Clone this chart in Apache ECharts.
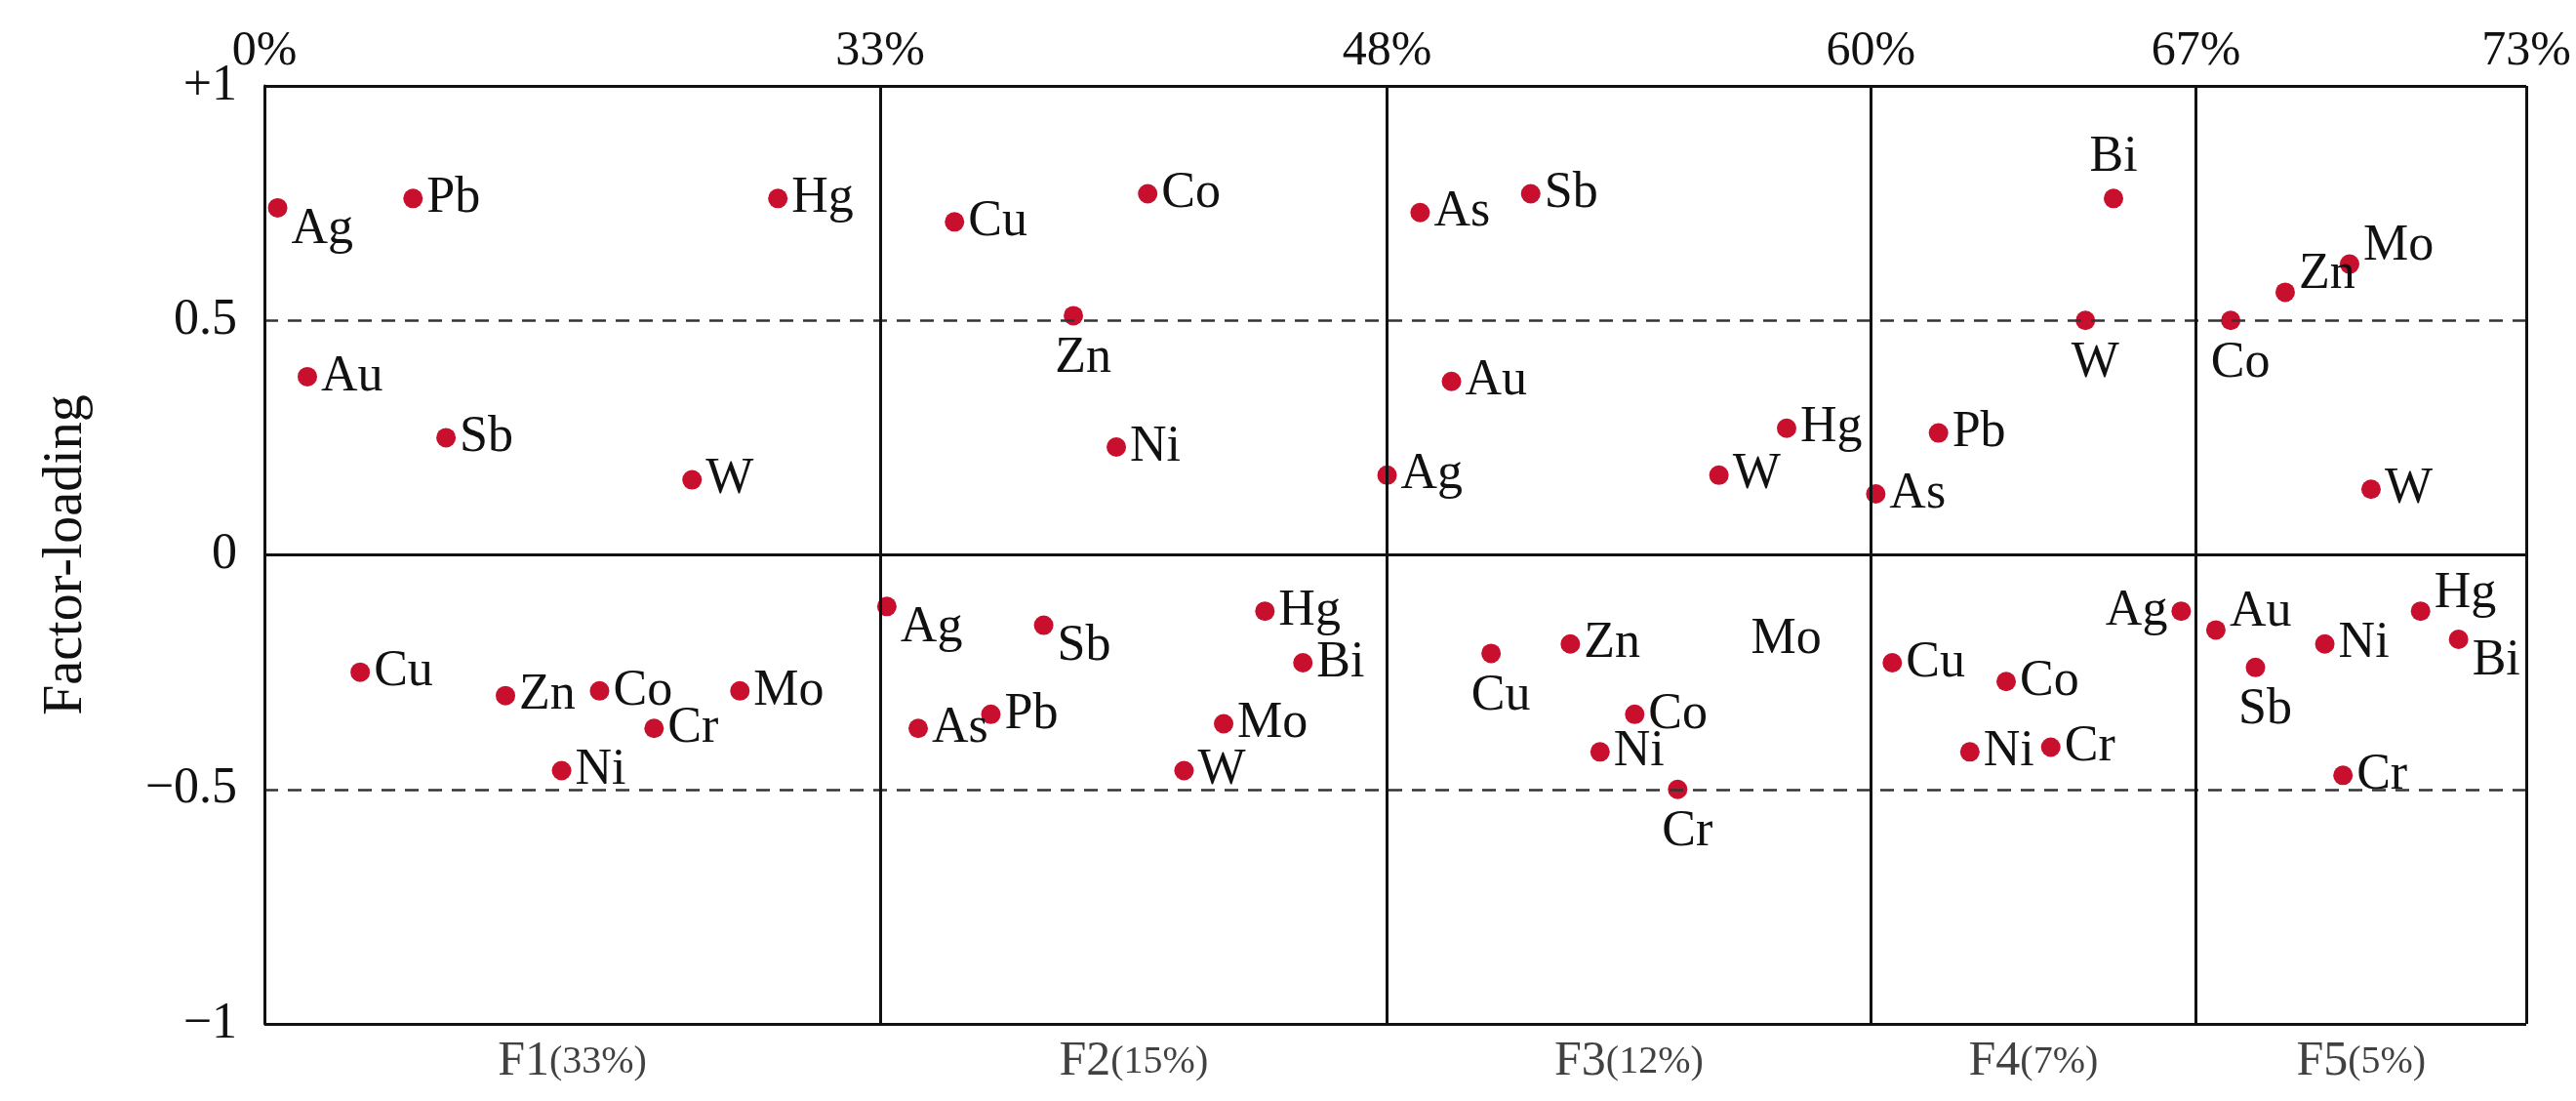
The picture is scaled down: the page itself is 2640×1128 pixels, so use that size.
<!DOCTYPE html>
<html>
<head>
<meta charset="utf-8">
<script src="https://cdn.jsdelivr.net/npm/echarts@6/dist/echarts.min.js"></script>
<style>html,body{margin:0;background:#fff}#c{width:2640px;height:1128px}</style>
</head>
<body>
<div id="c"></div>
<script>
// x positions are in panel units (each factor panel has its own width, as in the figure)
var dividers = [0, 373, 680, 973, 1170, 1370];
var dividerLabels = ['0%', '33%', '48%', '60%', '67%', '73%'];
var factorNames = ['F1', 'F2', 'F3', 'F4', 'F5'];
var factorShares = ['(33%)', '(15%)', '(12%)', '(7%)', '(5%)'];

var elements = ['Ag','Pb','Hg','Au','Sb','W','Cu','Zn','Co','Mo','Cr','Ni',
  'Cu','Co','Zn','Ni','Ag','Sb','Hg','Bi','Mo','As','Pb','W',
  'As','Sb','Au','Ag','W','Hg','Cu','Zn','Co','Ni','Cr','Mo',
  'Bi','W','Pb','As','Cu','Co','Ni','Cr','Ag',
  'Co','Zn','Mo','W','Au','Sb','Ni','Hg','Bi','Cr'];
var xPos = [8,90,311,26,110,259,58,146,203,288,236,180,
  418,535,490,516,377,472,606,629,581,396,440,557,
  700,767,719,680,881,922,743,791,830,809,856,898,
  1120,1103,1014,976,986,1055,1033,1082,1161,
  1191,1224,1263,1276,1182,1206,1248,1306,1329,1259];
var loadings = [0.74,0.76,0.76,0.38,0.25,0.16,-0.25,-0.30,-0.29,-0.29,-0.37,-0.46,
  0.71,0.77,0.51,0.23,-0.11,-0.15,-0.12,-0.23,-0.36,-0.37,-0.34,-0.46,
  0.73,0.77,0.37,0.17,0.17,0.27,-0.21,-0.19,-0.34,-0.42,-0.50,-0.18,
  0.76,0.50,0.26,0.13,-0.23,-0.27,-0.42,-0.41,-0.12,
  0.50,0.56,0.62,0.14,-0.16,-0.24,-0.19,-0.12,-0.18,-0.47];
// label placement: r right, b below, t above, l left, br below-right, tr above-right
var labelPos = ['br','r','r','r','r','r','r','r','r','r','r','r',
  'r','r','b','r','br','br','r','r','r','r','r','r',
  'r','r','r','r','r','r','b','r','r','r','b','r',
  't','b','r','r','r','r','r','r','l',
  'b','tr','tr','r','tr','b','r','tr','br','r'];
var hidden = [35]; // "Mo" in F3 is printed without a dot

var font = 'Liberation Serif';
var posMap = {
  r: {position: 'right', offset: [0, 0]},
  l: {position: 'left', offset: [0, 0]},
  b: {position: 'bottom', offset: [10, 4]},
  t: {position: 'top', offset: [0, -2]},
  br: {position: 'right', offset: [0, 22]},
  tr: {position: 'right', offset: [0, -18]}
};

var points = elements.map(function (n, i) {
  var p = posMap[labelPos[i]];
  return {
    value: [xPos[i], loadings[i]],
    name: n,
    symbolSize: hidden.indexOf(i) >= 0 ? 0 : 20,
    label: {show: true, formatter: n, position: p.position, offset: p.offset, distance: 4}
  };
});

var divLines = dividers.map(function (d, i) {
  return {xAxis: d, label: {formatter: dividerLabels[i]}};
});
var factorPoints = factorNames.map(function (f, i) {
  return {value: [(dividers[i] + dividers[i + 1]) / 2, -1],
    label: {formatter: '{a|' + f + '}{b|' + factorShares[i] + '}'}};
});

var chart = echarts.init(document.getElementById('c'));
chart.setOption({
  animation: false,
  grid: {left: 271, right: 51, top: 88, bottom: 79},
  xAxis: {
    type: 'value', min: 0, max: 1370,
    axisLine: {show: false}, axisTick: {show: false}, axisLabel: {show: false}, splitLine: {show: false}
  },
  yAxis: {
    type: 'value', min: -1, max: 1, interval: 0.5,
    name: 'Factor-loading', nameLocation: 'middle', nameGap: 175,
    nameTextStyle: {fontFamily: font, fontSize: 56, color: '#111'},
    axisLine: {show: true, lineStyle: {color: '#111', width: 3}},
    axisTick: {show: false},
    axisLabel: {fontFamily: font, fontSize: 52, color: '#111', margin: 28,
      formatter: function (v) { return v === 1 ? '+1' : v === -1 ? '\u22121' : v === -0.5 ? '\u22120.5' : String(v); }},
    splitLine: {show: false}
  },
  series: [{
    type: 'scatter',
    data: points,
    itemStyle: {color: '#c8102e', opacity: 1},
    label: {fontFamily: font, fontSize: 52, color: '#111'},
    markLine: {
      silent: true, symbol: 'none', animation: false,
      data: [
        {yAxis: 1, lineStyle: {type: 'solid', color: '#111', width: 3}, label: {show: false}},
        {yAxis: -1, lineStyle: {type: 'solid', color: '#111', width: 3}, label: {show: false}},
        {yAxis: 0, lineStyle: {type: 'solid', color: '#111', width: 3}, label: {show: false}},
        {yAxis: 0.5, lineStyle: {type: [14, 10], color: '#333', width: 2.5}, label: {show: false}},
        {yAxis: -0.5, lineStyle: {type: [14, 10], color: '#333', width: 2.5}, label: {show: false}}
      ].concat(divLines.map(function (d) {
        d.lineStyle = {type: 'solid', color: '#111', width: 3};
        d.label.position = 'end'; d.label.distance = 10;
        d.label.fontFamily = font; d.label.fontSize = 50; d.label.color = '#111';
        return d;
      }))
    }
  }, {
    type: 'scatter',
    silent: true,
    symbolSize: 0,
    data: factorPoints,
    label: {show: true, position: 'bottom', distance: 14,
      rich: {a: {fontFamily: font, fontSize: 50, color: '#111'}, b: {fontFamily: font, fontSize: 40, color: '#111'}}}
  }]
});
</script>
</body>
</html>
